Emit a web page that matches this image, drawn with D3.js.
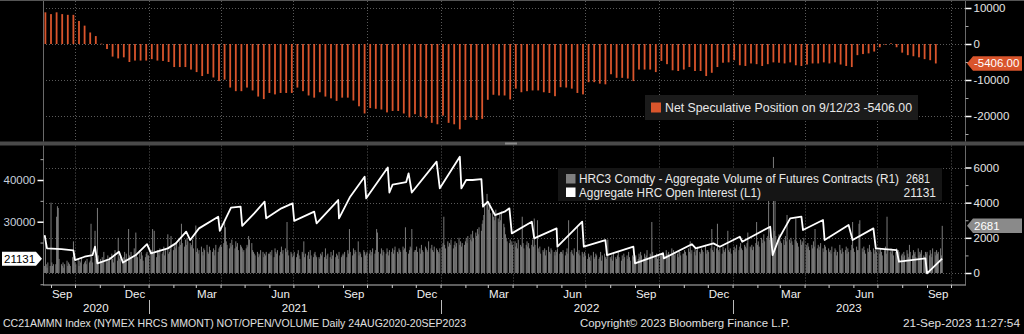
<!DOCTYPE html>
<html><head><meta charset="utf-8">
<script src="https://cdn.jsdelivr.net/npm/d3@7"></script>
<style>html,body{margin:0;padding:0;background:#000;overflow:hidden}svg{display:block}</style>
</head><body>
<svg id="c" width="1024" height="334"></svg>
<script>
// ---------------- DATA ----------------
const netSpecStart = "2020-08-25"; // weekly (Tuesday) COT reports
const netSpecValues = [
 8800,8300,8800,8300,8100,8100,6400,5100,3200,2200,100,
 -1400,-3500,-4000,-3700,-5000,-4600,-4600,-4600,-4200,
 -4600,-4700,-5000,-6400,-6400,-6400,-7100,-7800,-8900,-8300,
 -9300,-10300,-9900,-12100,-13100,-13100,-12100,-12900,-14600,-15300,
 -13600,-14000,-13600,-13600,-13600,-12100,-13100,-14300,-14900,-13400,
 -14600,-15100,-15800,-14900,-14900,-15700,-17300,-19300,-17800,-18000,
 -18200,-19000,-18600,-18600,-19300,-20400,-19500,-20200,-20600,-21900,
 -22300,-19900,-21900,-22300,-23700,-21100,-20400,-21100,-20800,-15500,
 -14100,-14300,
 -14300,-15400,-12400,-13400,-13100,-12900,-12900,-13400,-13600,-14500,
 -12000,-12100,-12400,-13600,-14000,-10600,-10600,-11000,-11200,-8400,
 -9400,-9400,-9600,-10300,-7100,-7100,-7100,-7800,-4700,-5600,
 -7300,-7500,-7100,-6400,-7500,-7500,-8900,-8000,-6400,-5200,
 -5100,-4500,-5900,-6100,-5400,-5600,-6100,-5600,-5100,-5200,
 -5400,-5100,-5900,-6100,-5700,-5400,-5400,-5100,-5400,-5100,
 -5700,-6100,-6400,-3100,-2800,-2600,-2100,-900,-200,200,
 -900,-2400,-3100,-3400,-3700,-4200,-4500,-5406
];

const oiDates = ["2020-08-24","2020-08-27","2020-09-14","2020-09-29","2020-10-01","2020-10-13","2020-10-23","2020-10-26","2020-10-29","2020-11-13","2020-11-25","2020-11-30","2020-12-16","2020-12-30","2021-01-04","2021-01-25","2021-02-04","2021-02-17","2021-02-22","2021-03-05","2021-03-29","2021-03-31","2021-04-14","2021-04-26","2021-04-28","2021-05-13","2021-05-26","2021-05-28","2021-06-16","2021-06-30","2021-07-02","2021-07-27","2021-07-30","2021-08-26","2021-08-27","2021-09-10","2021-09-28","2021-09-30","2021-10-27","2021-10-29","2021-11-02","2021-11-19","2021-11-22","2021-11-26","2021-12-27","2021-12-31","2022-01-25","2022-01-27","2022-02-02","2022-02-10","2022-02-21","2022-02-23","2022-03-01","2022-03-10","2022-03-22","2022-03-28","2022-03-31","2022-04-25","2022-04-28","2022-05-26","2022-05-27","2022-06-27","2022-06-29","2022-07-26","2022-07-28","2022-08-30","2022-09-01","2022-10-06","2022-10-07","2022-11-11","2022-11-16","2022-12-08","2022-12-16","2023-01-10","2023-01-13","2023-02-17","2023-02-20","2023-02-28","2023-03-14","2023-03-28","2023-03-30","2023-04-24","2023-04-26","2023-05-26","2023-05-31","2023-06-26","2023-06-29","2023-07-25","2023-07-28","2023-08-30","2023-09-01","2023-09-20"];
const oiValues = [26800,23600,23400,23100,20800,21600,22000,24000,20000,21000,22800,20200,22000,24600,22400,23600,24800,27600,25600,28400,31200,27800,33400,33600,29000,32000,34800,30800,33200,34400,30200,32400,29600,35200,30800,36000,40800,35600,43000,37000,38900,39500,41600,37000,44400,38000,45600,38000,40000,40000,40200,33600,34800,31600,32400,33200,27200,30000,26000,28400,24000,30000,24000,25600,22000,24000,20000,22400,21200,24600,23600,24800,24000,26400,25200,28800,22000,26000,30800,31200,28000,30400,25600,29200,25600,28400,23600,23200,20400,21200,17600,21131];

// daily volume (hundreds of contracts), one string per month, trading days in order
const volumeStartDay = 24;
const volumeMonths = ["2020-08","2020-09","2020-10","2020-11","2020-12","2021-01","2021-02","2021-03","2021-04","2021-05","2021-06","2021-07","2021-08","2021-09","2021-10","2021-11","2021-12","2022-01","2022-02","2022-03","2022-04","2022-05","2022-06","2022-07","2022-08","2022-09","2022-10","2022-11","2022-12","2023-01","2023-02","2023-03","2023-04","2023-05","2023-06","2023-07","2023-08","2023-09"];
const volumeByMonth = [
 "4 21 5 3 6 4",
 "40 6 4 5 5 32 38 37 8 5 4 6 3 5 7 4 6 5 4 9 18 7",
 "6 5 8 4 7 6 9 5 6 7 5 8 6 7 28 9 6 24 8 7 37 10",
 "8 6 9 7 12 8 6 10 7 9 11 8 6 9 13 7 20 9 8 10 6",
 "9 12 8 11 25 10 8 12 9 14 10 23 11 9 13 8 12 10 7 9 11 12 10",
 "10 12 13 25 11 24 9 13 12 10 14 11 12 15 10 13 22 11 12 14 21",
 "13 15 16 14 17 15 18 16 28 17 15 19 16 20 18 17 15 16 19 14",
 "27 12 14 11 13 15 12 10 14 13 16 12 11 15 13 12 14 10 13 16 12 14 15",
 "16 15 17 30 26 18 16 14 17 15 19 16 14 18 15 17 13 16 15 14 12 13",
 "14 16 15 21 19 17 13 12 11 10 12 9 11 10 13 12 9 11 10 12 11",
 "11 12 10 13 9 14 12 11 13 10 12 15 11 13 14 12 29 13 10 12 11 9",
 "10 12 9 11 13 10 8 12 11 18 9 11 10 12 8 13 10 9 11 12 10 9",
 "9 8 11 10 12 9 14 8 10 11 9 12 8 10 13 9 11 10 8 12 9 10",
 "11 10 12 9 13 11 25 12 10 14 11 13 12 18 10 12 11 9 13 12 10 11",
 "12 11 13 10 12 14 11 13 25 23 12 11 14 10 13 12 11 14 12 10 13",
 "12 14 11 13 15 12 11 14 13 12 15 13 14 26 12 11 13 15 14 25 12 13",
 "13 15 12 14 11 16 13 12 15 14 13 12 18 14 16 13 12 15 14 13 12 11 14",
 "15 17 32 16 14 18 15 17 16 19 14 16 18 15 17 20 16 18 15 17 16",
 "18 20 17 21 19 22 18 24 20 23 21 25 22 26 24 28 30 33 38 45",
 "40 36 38 34 35 32 30 33 36 31 29 34 30 35 28 26 22 20 18 17 19 16 18",
 "16 18 15 17 14 19 16 15 32 17 14 16 18 15 17 14 16 19 15 31 16",
 "30 14 12 15 11 13 12 14 10 13 15 12 11 14 13 12 10 13 12 14 11 12",
 "12 11 13 10 12 14 11 30 12 13 11 10 14 12 26 11 13 10 12 11 9 12",
 "10 8 11 9 7 10 12 8 9 11 10 8 9 12 7 10 11 9 8 10 19",
 "9 8 10 7 11 9 8 10 12 9 7 10 8 11 9 10 8 12 9 7 10 9 8",
 "9 10 8 11 9 12 10 8 11 9 10 13 9 11 10 29 12 9 10 11 8 10",
 "10 11 9 12 10 13 11 9 12 10 14 11 13 10 12 11 9 13 12 10 11",
 "11 13 12 10 14 12 18 11 13 12 14 10 13 15 12 11 14 13 12 16 11 13",
 "13 12 14 25 13 12 15 14 28 13 12 14 11 15 13 12 14 24 13 12 14 11",
 "13 15 12 14 16 13 15 17 14 13 16 15 14 17 23 15 14 16 13 15 17 29",
 "16 18 15 20 17 19 22 18 20 21 43 19 22 20 66 24 42 21 19 22",
 "20 18 17 19 16 21 18 33 19 17 20 18 16 19 31 18 17 15 19 16 18 17 20",
 "16 14 17 15 13 16 14 18 15 25 14 16 13 15 17 14 12 16 15 13",
 "14 12 13 11 15 12 14 13 10 12 16 13 11 14 12 13 15 11 14 12 13 16 29",
 "14 12 15 13 13 28 30 14 12 15 13 11 14 12 16 13 12 14 11 13 15 12",
 "13 11 14 12 10 13 15 11 32 13 12 14 11 13 10 12 14 11 13 12 10",
 "11 9 12 10 13 11 9 16 12 10 13 11 12 9 14 10 12 11 13 10 9 12 11",
 "12 10 13 11 9 14 12 10 13 11 12 14 10 26.81"
];

const topTicks = [10000, 0, -10000, -20000];
const topMinorTicks = [5000, -5000, -15000, -25000];
const volTicks = [0, 2000, 4000, 6000];
const volMinorTicks = [1000, 3000, 5000];
const oiTicks = [30000, 40000];
const oiMinorTicks = [45000, 35000, 25000, 15000];
const monthLabelNames = {8: "Sep", 11: "Dec", 2: "Mar", 5: "Jun"};
const yearLabels = ["2020", "2021", "2022", "2023"];

// ---------------- CHART ----------------
const svg = d3.select("#c");
const FONT = "'Liberation Sans', Arial, sans-serif";
const L = 43, R = 965;
const topY0 = 1, topY1 = 141.5, botY0 = 145.5, botY1 = 284.5;
const parse = d3.utcParse("%Y-%m-%d");
const fmtInt = d => String(Math.round(d));          // hyphen-minus, like the terminal
const fmt2 = d => d.toFixed(2);

const x = d3.scaleUtc()
  .domain([new Date(Date.UTC(2020, 7, 22)), new Date(Date.UTC(2023, 9, 18, 12))])
  .range([L, R]);
const yTop = d3.scaleLinear().domain([-20000, 10000]).range([116, 8]);
const yVol = d3.scaleLinear().domain([0, 6000]).range([273, 167.5]);
const yOI = d3.scaleLinear().domain([30000, 40000]).range([221.7, 180]);

const grid = "#5a5a5a";
const orange = "#d9552c";

svg.append("rect").attr("width", 1024).attr("height", 334).attr("fill", "#000");

svg.append("clipPath").attr("id", "ct").append("rect").attr("x", L).attr("y", topY0).attr("width", R - L).attr("height", topY1 - topY0);
svg.append("clipPath").attr("id", "cb").append("rect").attr("x", L).attr("y", botY0).attr("width", R - L).attr("height", botY1 - botY0);

const quarterStarts = d3.utcMonths(x.domain()[0], x.domain()[1]).filter(d => d.getUTCMonth() % 3 === 0);

// ---- grids
function vgrid(y0, y1) {
  svg.append("g").selectAll("line").data(quarterStarts).join("line")
    .attr("x1", d => Math.round(x(d)) + 0.5).attr("x2", d => Math.round(x(d)) + 0.5)
    .attr("y1", y0).attr("y2", y1)
    .attr("stroke", grid).attr("stroke-dasharray", "1,2");
}
vgrid(topY0, topY1); vgrid(botY0, botY1);
svg.append("g").selectAll("line").data(topTicks).join("line")
  .attr("x1", L).attr("x2", R).attr("y1", d => Math.round(yTop(d)) + 0.5).attr("y2", d => Math.round(yTop(d)) + 0.5)
  .attr("stroke", grid).attr("stroke-dasharray", "1,2");
svg.append("g").selectAll("line").data(volTicks).join("line")
  .attr("x1", L).attr("x2", R).attr("y1", d => Math.round(yVol(d)) + 0.5).attr("y2", d => Math.round(yVol(d)) + 0.5)
  .attr("stroke", grid).attr("stroke-dasharray", "1,2");

// ---- top bars
const t0 = parse(netSpecStart);
const spec = netSpecValues.map((v, i) => ({ date: d3.utcDay.offset(t0, 7 * i), v }));
svg.append("g").attr("clip-path", "url(#ct)").selectAll("rect").data(spec).join("rect")
  .attr("x", d => x(d.date) - 0.9).attr("width", 1.8)
  .attr("y", d => Math.min(yTop(d.v), yTop(0)))
  .attr("height", d => Math.max(0.6, Math.abs(yTop(d.v) - yTop(0))))
  .attr("fill", orange);

// ---- volume bars
const vol = [];
volumeMonths.forEach((m, i) => {
  const vals = volumeByMonth[i].trim().split(/\s+/).map(Number);
  const [yy, mm] = m.split("-").map(Number);
  let d = new Date(Date.UTC(yy, mm - 1, i === 0 ? volumeStartDay : 1));
  let k = 0;
  while (d.getUTCMonth() === mm - 1 && k < vals.length) {
    const wd = d.getUTCDay();
    if (wd !== 0 && wd !== 6) { vol.push({ date: new Date(d), v: vals[k] * 100 }); k++; }
    d = d3.utcDay.offset(d, 1);
  }
});
svg.append("g").attr("clip-path", "url(#cb)").selectAll("rect").data(vol).join("rect")
  .attr("x", d => x(d.date) - 0.45).attr("width", 0.95)
  .attr("y", d => yVol(d.v)).attr("height", d => yVol(0) - yVol(d.v))
  .attr("fill", "#808080");

// ---- open interest line
const oi = oiDates.map((d, i) => ({ date: parse(d), v: oiValues[i] }));
svg.append("path").attr("clip-path", "url(#cb)").datum(oi)
  .attr("d", d3.line().x(d => x(d.date)).y(d => yOI(d.v)))
  .attr("fill", "none").attr("stroke", "#fff").attr("stroke-width", 1.8).attr("stroke-linejoin", "round");

// ---- frames
const frame = "#6a6a6a";
svg.append("line").attr("x1", 0).attr("x2", 1024).attr("y1", 0.5).attr("y2", 0.5).attr("stroke", "#555");
svg.append("rect").attr("x", 0).attr("y", 141.5).attr("width", 1024).attr("height", 4).attr("fill", "#4a4a4a");
svg.append("rect").attr("x", 505).attr("y", 142.5).attr("width", 12).attr("height", 2).attr("fill", "#8a8a8a");
[[topY0, topY1], [botY0, botY1]].forEach(([a, b]) => {
  svg.append("line").attr("x1", L + 0.5).attr("x2", L + 0.5).attr("y1", a).attr("y2", b).attr("stroke", frame);
  svg.append("line").attr("x1", R + 0.5).attr("x2", R + 0.5).attr("y1", a).attr("y2", b).attr("stroke", frame);
});

// ---- axes
function styleAxis(g, color) {
  g.select(".domain").remove();
  g.selectAll(".tick line").attr("stroke", color);
  g.selectAll(".tick text").attr("fill", "#e4e4e4").attr("font-family", FONT).attr("font-size", 11.5);
}
const axTop = svg.append("g").attr("transform", `translate(${R + 0.5},0)`)
  .call(d3.axisRight(yTop).tickValues(topTicks).tickSize(6).tickPadding(2).tickFormat(fmtInt));
styleAxis(axTop, "#fff");
axTop.selectAll(".tick line").attr("stroke-width", 1.5);
const axTopMin = svg.append("g").attr("transform", `translate(${R + 0.5},0)`)
  .call(d3.axisRight(yTop).tickValues(topMinorTicks).tickSize(3).tickFormat(""));
styleAxis(axTopMin, "#aaa");

const axVol = svg.append("g").attr("transform", `translate(${R + 0.5},0)`)
  .call(d3.axisRight(yVol).tickValues(volTicks).tickSize(6).tickPadding(2).tickFormat(fmtInt));
styleAxis(axVol, "#fff");
axVol.selectAll(".tick line").attr("stroke-width", 1.5);
const axVolMin = svg.append("g").attr("transform", `translate(${R + 0.5},0)`)
  .call(d3.axisRight(yVol).tickValues(volMinorTicks).tickSize(3).tickFormat(""));
styleAxis(axVolMin, "#aaa");

const axOI = svg.append("g").attr("transform", `translate(${L + 0.5},0)`)
  .call(d3.axisLeft(yOI).tickValues(oiTicks).tickSize(6).tickPadding(2).tickFormat(fmtInt));
styleAxis(axOI, "#fff");
axOI.selectAll(".tick line").attr("stroke-width", 1.5);
axOI.selectAll(".tick text").attr("fill", "#c8d0dc");
const axOIMin = svg.append("g").attr("transform", `translate(${L + 0.5},0)`)
  .call(d3.axisLeft(yOI).tickValues(oiMinorTicks).tickSize(3).tickFormat(""));
styleAxis(axOIMin, "#aaa");

// x axis
svg.append("line").attr("x1", L).attr("x2", R + 1).attr("y1", botY1 + 0.5).attr("y2", botY1 + 0.5).attr("stroke", "#bbb");
const axX = svg.append("g").attr("transform", `translate(0,${botY1 + 0.5})`)
  .call(d3.axisBottom(x).ticks(d3.utcMonth.every(1)).tickSize(3).tickFormat(""));
axX.select(".domain").remove();
axX.selectAll(".tick line").attr("stroke", "#ccc");

const months = d3.utcMonths(x.domain()[0], x.domain()[1]).filter(d => monthLabelNames[d.getUTCMonth()] !== undefined);
svg.append("g").selectAll("text").data(months).join("text")
  .attr("x", d => x(d3.utcDay.offset(d, 14)))
  .attr("y", 298).attr("text-anchor", "middle")
  .attr("fill", "#f0f0f0").attr("font-family", FONT).attr("font-size", 11.5)
  .text(d => monthLabelNames[d.getUTCMonth()]);

const yearStarts = [x.domain()[0], ...d3.utcYears(x.domain()[0], x.domain()[1]), x.domain()[1]];
svg.append("g").selectAll("text").data(yearLabels).join("text")
  .attr("x", (d, i) => (x(yearStarts[i]) + x(yearStarts[i + 1])) / 2)
  .attr("y", 312).attr("text-anchor", "middle")
  .attr("fill", "#f0f0f0").attr("font-family", FONT).attr("font-size", 11.5)
  .text(d => d);
svg.append("g").selectAll("line").data(d3.utcYears(x.domain()[0], x.domain()[1])).join("line")
  .attr("x1", d => Math.round(x(d)) + 0.5).attr("x2", d => Math.round(x(d)) + 0.5)
  .attr("y1", 300).attr("y2", 314).attr("stroke", "#bbb");

// ---- value tags
const lastSpec = netSpecValues[netSpecValues.length - 1];
const lastVol = vol[vol.length - 1].v;
const lastOI = oiValues[oiValues.length - 1];
function rightTag(yc, fill, txt, txtFill) {
  const h = 14.5;
  svg.append("path").attr("d", `M${R + 2},${yc} L${R + 8},${yc - h / 2} H1022 V${yc + h / 2} H${R + 8} Z`).attr("fill", fill);
  svg.append("text").attr("x", R + 9).attr("y", yc + 4).attr("fill", txtFill)
    .attr("font-family", FONT).attr("font-size", 11.5).text(txt);
}
rightTag(yTop(lastSpec), orange, fmt2(lastSpec), "#fff");
rightTag(yVol(lastVol), "#8a8a8a", fmtInt(lastVol), "#fff");
{
  const yc = yOI(lastOI);
  svg.append("path").attr("d", `M2,${yc - 7} H36 L42,${yc} L36,${yc + 7} H2 Z`).attr("fill", "#fff");
  svg.append("text").attr("x", 4).attr("y", yc + 4).attr("fill", "#000")
    .attr("font-family", FONT).attr("font-size", 11.5).text(fmtInt(lastOI));
}

// ---- legends
svg.append("rect").attr("x", 645).attr("y", 95).attr("width", 273).attr("height", 25).attr("fill", "#1b1b1b");
svg.append("rect").attr("x", 651).attr("y", 102.5).attr("width", 10).attr("height", 10).attr("fill", orange);
svg.append("text").attr("x", 665).attr("y", 112).attr("fill", "#e8e8e8")
  .attr("font-family", FONT).attr("font-size", 12)
  .attr("textLength", 247).attr("lengthAdjust", "spacingAndGlyphs")
  .text(`Net Speculative Position on 9/12/23 ${fmt2(lastSpec)}`);

svg.append("rect").attr("x", 558).attr("y", 168).attr("width", 384).attr("height", 33).attr("fill", "#151515");
svg.append("rect").attr("x", 566).attr("y", 174).attr("width", 9.5).attr("height", 9.5).attr("fill", "#808080");
svg.append("rect").attr("x", 566).attr("y", 187.5).attr("width", 9.5).attr("height", 9.5).attr("fill", "#fff");
const lg = (xx, yy, t, tl, anchor) => {
  const el = svg.append("text").attr("x", xx).attr("y", yy).attr("fill", "#e8e8e8")
    .attr("font-family", FONT).attr("font-size", 12).attr("text-anchor", anchor || "start").text(t);
  if (tl) el.attr("textLength", tl).attr("lengthAdjust", "spacingAndGlyphs");
};
lg(579, 182.5, "HRC3 Comdty - Aggregate Volume of Futures Contracts (R1)", 320);
lg(906, 182.5, fmtInt(lastVol), 24);
lg(579, 196.5, "Aggregate HRC Open Interest (L1)", 182);
lg(936, 196.5, fmtInt(lastOI), null, "end");

// ---- footer
const ft = (xx, t, tl) => svg.append("text").attr("x", xx).attr("y", 327).attr("fill", "#e0e0e0")
  .attr("font-family", FONT).attr("font-size", 10.5).attr("textLength", tl).attr("lengthAdjust", "spacingAndGlyphs").text(t);
ft(3, "CC21AMMN Index (NYMEX HRCS MMONT) NOT/OPEN/VOLUME  Daily 24AUG2020-20SEP2023", 463);
ft(580, "Copyright\u00A9 2023 Bloomberg Finance L.P.", 210);
ft(903, "21-Sep-2023 11:27:54", 117);
</script>
</body></html>
